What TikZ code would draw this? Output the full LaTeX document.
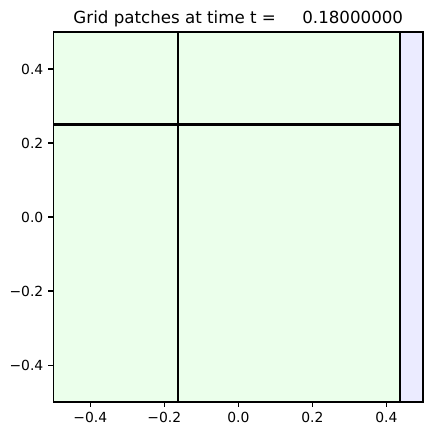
\documentclass[tikz,border=0pt]{standalone}
\usepackage{fontspec}
\setmainfont{DejaVu Sans}
\usepackage{tikz}
\definecolor{patchgreen}{RGB}{235,255,235}
\definecolor{patchblue}{RGB}{235,235,255}

\begin{document}
\begin{tikzpicture}[x=266.4pt, y=266.4pt,
    gridpatch/.style={draw=black, line width=1.5pt},
    ticklabel/.style={inner sep=0pt, font=\fontsize{10}{12}\selectfont}]
  \useasboundingbox (-0.644,-0.589) rectangle (0.5235,0.5865);
  % patches, cut at the axes
  \begin{scope}
    \clip (-0.5,-0.5) rectangle (0.5,0.5);
    \filldraw[gridpatch, fill=patchgreen] (-0.5,-0.5) rectangle (-0.1625,0.25);
    \filldraw[gridpatch, fill=patchgreen] (-0.1625,-0.5) rectangle (0.4375,0.25);
    \filldraw[gridpatch, fill=patchgreen] (-0.5,0.25) rectangle (-0.1625,0.5);
    \filldraw[gridpatch, fill=patchgreen] (-0.1625,0.25) rectangle (0.4375,0.5);
    \filldraw[gridpatch, fill=patchblue] (0.4375,-0.5) rectangle (0.5,0.5);
  \end{scope}
  % frame and ticks
  \draw[line width=0.8pt] (-0.5,-0.5) rectangle (0.5,0.5);
  \foreach \v/\t [count=\i] in {-0.4/−0.4,-0.2/−0.2,0/0.0,0.2/0.2,0.4/0.4} {
    \draw[line width=0.8pt] (\v,-0.5) -- ++(0,-3.5pt);
    \node[ticklabel, anchor=north, yshift=-7pt] (xtick\i) at (\v,-0.5) {\t};
    \draw[line width=0.8pt] (-0.5,\v) -- ++(-3.5pt,0);
    \node[ticklabel, anchor=east, xshift=-7pt] (ytick\i) at (-0.5,\v) {\t};
  }
  \node[anchor=base, yshift=6pt, font=\fontsize{12}{14}\selectfont] (title) at (0,0.5)
    {Grid patches at time t =\ \ \ \ \ 0.18000000};
\end{tikzpicture}
\end{document}
